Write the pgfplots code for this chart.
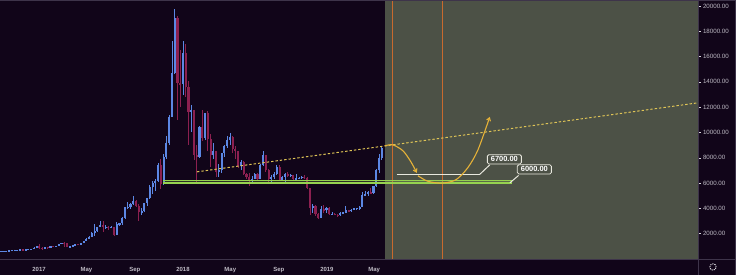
\documentclass[border=0pt]{standalone}
\usepackage{pgfplots}
\pgfplotsset{compat=1.18}
\usepackage{pgfplotstable}
\usetikzlibrary{arrows.meta}
\usepackage{fontspec}
\setmainfont{Liberation Sans}

\definecolor{bgcol}{RGB}{17,5,25}
\definecolor{zonecol}{RGB}{76,81,70}
\definecolor{upcol}{RGB}{92,135,228}
\definecolor{dncol}{RGB}{140,32,80}
\definecolor{sepcol}{RGB}{62,52,74}
\definecolor{lblcol}{RGB}{190,186,196}
\definecolor{vlinecol}{RGB}{200,106,46}
\definecolor{trendcol}{RGB}{222,196,86}
\definecolor{pathcol}{RGB}{230,178,56}
\definecolor{bandcol}{RGB}{150,210,80}
\definecolor{lvlcol}{RGB}{232,232,222}

% weekly BTC/USD candles; d = days since 2017-01-01 (week open)
\pgfplotstableread{
d o h l c
-97 605 612 594 610
-90 610 620 605 617
-83 617 642 615 637
-76 637 660 628 655
-69 655 705 650 700
-62 700 740 685 703
-55 703 718 695 705
-48 705 745 700 735
-41 735 745 725 730
-34 730 770 725 765
-27 765 780 755 778
-20 778 795 770 790
-13 790 935 790 900
-6 900 1000 880 998
1 998 1150 810 905
8 905 910 750 820
15 820 930 815 920
22 920 925 880 915
29 915 1020 910 1010
36 1010 1060 990 1000
43 1000 1060 995 1050
50 1050 1200 1040 1190
57 1190 1290 1180 1270
64 1270 1330 980 1230
71 1230 1250 940 960
78 960 1050 890 970
85 970 1090 960 1080
92 1080 1190 1070 1180
99 1180 1210 1150 1170
106 1170 1260 1160 1250
113 1250 1430 1240 1420
120 1420 1630 1400 1620
127 1620 1800 1610 1730
134 1730 2100 1700 2050
141 2050 2760 1850 2200
148 2200 2550 2150 2520
155 2520 2980 2500 2650
162 2650 2980 2100 2500
169 2500 2700 2400 2500
176 2500 2600 2330 2480
183 2480 2640 2450 2510
190 2510 2530 1830 1930
197 1930 2900 1900 2750
204 2750 2850 2600 2850
211 2850 3300 2700 3230
218 3230 4100 3200 4080
225 4080 4480 3950 4100
232 4100 4400 3950 4350
239 4350 4980 4300 4600
246 4600 4700 4100 4200
253 4200 4350 2970 3700
260 3700 4000 3500 3780
267 3780 4450 3750 4400
274 4400 4850 4150 4800
281 4800 5850 4750 5700
288 5700 6150 5100 6000
295 6000 6300 5400 6150
302 6150 7600 6100 7400
309 7400 7880 5500 5900
316 5900 8300 5850 8050
323 8050 9700 7900 9200
330 9200 11400 9000 11230
337 11230 17200 11200 14700
344 14700 19730 14600 19045
351 19045 19200 11000 13900
358 13900 16500 12000 13800
365 13800 17250 13000 16270
372 16270 17000 12800 13600
379 13600 14100 9000 11600
386 11600 12200 10000 11750
393 11750 11800 7800 8200
400 8200 9000 6000 8100
407 8100 10500 8000 10470
414 10470 11800 9300 9600
421 9600 11550 9400 11500
428 11500 11700 8500 9500
435 9500 9900 7300 8200
442 8200 9200 7900 8500
449 8500 8550 6500 6900
456 6900 7500 6450 7000
463 7000 8400 6800 8350
470 8350 9000 8100 8900
477 8900 9750 8800 9400
484 9400 9990 9000 9650
491 9650 9700 8400 8700
498 8700 8900 7900 8500
505 8500 8550 7200 7350
512 7350 7800 7050 7700
519 7700 7750 6650 6750
526 6750 6800 6300 6500
533 6500 6800 5750 6150
540 6150 6550 5950 6350
547 6350 6800 6300 6750
554 6750 6800 6200 6350
561 6350 7500 6300 7400
568 7400 8500 7350 8200
575 8200 8250 6900 7000
582 7000 7150 6000 6300
589 6300 6600 5900 6500
596 6500 6900 6350 6700
603 6700 7400 6650 7300
610 7300 7400 6150 6250
617 6250 6550 6150 6500
624 6500 6800 6100 6700
631 6700 6850 6450 6600
638 6600 6700 6500 6600
645 6600 6650 6150 6300
652 6300 6700 6250 6400
659 6400 6480 6350 6400
666 6400 6550 6300 6500
673 6500 6600 6300 6400
680 6400 6450 5500 5600
687 5600 5650 3500 4000
694 4000 4350 3600 4150
701 4150 4300 3400 3550
708 3550 3600 3200 3250
715 3250 4200 3250 3950
722 3950 4250 3650 3850
729 3850 4100 3650 4050
736 4050 4100 3500 3550
743 3550 3750 3450 3550
750 3550 3650 3450 3500
757 3500 3550 3350 3450
764 3450 3700 3400 3650
771 3650 3700 3550 3650
778 3650 4200 3650 3850
785 3850 3900 3700 3800
792 3800 3950 3700 3900
799 3900 4000 3850 4000
806 4000 4050 3900 4000
813 4000 4150 3900 4100
820 4100 5300 4100 5050
827 5050 5400 4950 5100
834 5100 5350 5000 5300
841 5300 5600 5150 5200
848 5200 5800 5150 5750
855 5750 7100 5700 7000
862 7000 8300 6800 8000
869 8000 8900 7800 8750
}\candles

\begin{document}
\begin{tikzpicture}
\useasboundingbox (0,0) rectangle (736bp,275bp);
\fill[bgcol] (0,0) rectangle (736bp,275bp);
\begin{axis}[
  at={(0,16bp)}, anchor=south west,
  scale only axis, width=698bp, height=259bp,
  xmin=-99, xmax=1671, ymin=0, ymax=20470,
  axis line style={draw=none},
  scaled y ticks=false, scaled x ticks=false,
  xtick={0,120,243,365,485,608,730,850},
  xticklabels={2017,May,Sep,2018,May,Sep,2019,May},
  xtick style={draw=none},
  xticklabel style={font=\fontsize{6}{7}\selectfont\bfseries, text=lblcol, yshift=-2.5bp},
  ytick={2000,4000,...,20000},
  ytick pos=right, yticklabel pos=right,
  tick align=outside, major tick length=2.5bp,
  ytick style={draw=lblcol!60, line width=0.5bp},
  yticklabel={\pgfmathprintnumber[fixed,fixed zerofill,precision=2,1000 sep={},assume math mode=true]{\tick}},
  yticklabel style={font=\fontsize{6.2}{7}\selectfont, text=lblcol, anchor=west, xshift=-1bp},
  clip=true,
]
% projection zone
\addplot[draw=none, fill=zonecol] coordinates {(877,0) (1671,0) (1671,20470) (877,20470)} --cycle;

% candles: wicks and bodies
\addplot[draw=none, mark=none, restrict y to domain=0:30000,
  error bars/.cd, y dir=both, y explicit, error mark=none,
  error bar style={draw=upcol, line width=0.8bp}]
  table[x=d, y expr={\thisrow{c}>=\thisrow{o} ? 0.5*(\thisrow{h}+\thisrow{l}) : -100000},
        y error expr={0.5*(\thisrow{h}-\thisrow{l})}] {\candles};
\addplot[draw=none, mark=none, restrict y to domain=0:30000,
  error bars/.cd, y dir=both, y explicit, error mark=none,
  error bar style={draw=dncol, line width=0.8bp}]
  table[x=d, y expr={\thisrow{c}<\thisrow{o} ? 0.5*(\thisrow{h}+\thisrow{l}) : -100000},
        y error expr={0.5*(\thisrow{h}-\thisrow{l})}] {\candles};
\addplot[draw=none, mark=none, restrict y to domain=0:30000,
  error bars/.cd, y dir=both, y explicit, error mark=none,
  error bar style={draw=upcol, line width=2.1bp}]
  table[x=d, y expr={\thisrow{c}>=\thisrow{o} ? 0.5*(\thisrow{o}+\thisrow{c}) : -100000},
        y error expr={max(0.5*abs(\thisrow{c}-\thisrow{o}),35)}] {\candles};
\addplot[draw=none, mark=none, restrict y to domain=0:30000,
  error bars/.cd, y dir=both, y explicit, error mark=none,
  error bar style={draw=dncol, line width=2.1bp}]
  table[x=d, y expr={\thisrow{c}<\thisrow{o} ? 0.5*(\thisrow{o}+\thisrow{c}) : -100000},
        y error expr={max(0.5*abs(\thisrow{c}-\thisrow{o}),35)}] {\candles};

% time markers
\addplot[draw=vlinecol, line width=1.2bp] coordinates {(896.3,0) (896.3,20470)};
\addplot[draw=vlinecol, line width=1.2bp] coordinates {(1023.1,0) (1023.1,20470)};

% support band
\addplot[draw=none, fill=bandcol, fill opacity=0.2] coordinates {(314,6000) (1199,6000) (1199,6204) (314,6204)} --cycle;
\addplot[draw=bandcol, line width=1.2bp] coordinates {(314,6204) (1199,6204)};
\addplot[draw=bandcol, line width=1.2bp] coordinates {(314,6000) (1199,6000)};

% rising trendline
\addplot[draw=trendcol, line width=1bp, dash pattern=on 2.4bp off 2bp] coordinates {(400.5,6890) (1671,12345)};

% level 6700
\addplot[draw=lvlcol, line width=1bp] coordinates {(907,6700) (1118,6700)};

% projected path
\addplot[draw=pathcol, line width=1.1bp, smooth, -{Straight Barb[length=3bp,width=4bp]}] coordinates {
  (877,8943) (897,9022) (923,8548) (943,7680) (958,6810)};
\addplot[draw=pathcol, line width=1.1bp, smooth, -{Straight Barb[length=3bp,width=4bp]}] coordinates {
  (961,6575) (986,6141) (1021.5,5999) (1057,6259) (1087,7206) (1113,8627) (1143,11232)};

% callouts
\addplot[draw=lvlcol, line width=1bp] coordinates {(1118,6700) (1143,7440)};
\addplot[draw=lvlcol, line width=1bp] coordinates {(1194,6020) (1216,6600)};
\node[draw=lvlcol, fill=zonecol, rounded corners=1.5bp, line width=0.8bp, inner xsep=3.5bp, inner ysep=2bp,
  text=white, font=\fontsize{7.5}{8}\selectfont\bfseries] at (axis cs:1180,7877) {6700.00};
\node[draw=lvlcol, fill=zonecol, rounded corners=1.5bp, line width=0.8bp, inner xsep=3.5bp, inner ysep=2bp,
  text=white, font=\fontsize{7.5}{8}\selectfont\bfseries] at (axis cs:1256,7088) {6000.00};
\end{axis}
% panel separators
\draw[sepcol, line width=0.8bp] (0,274.6bp) -- (736bp,274.6bp);
\draw[sepcol, line width=0.8bp] (0,16bp) -- (736bp,16bp);
\draw[sepcol, line width=0.8bp] (698.4bp,0) -- (698.4bp,275bp);
\draw[sepcol, line width=0.6bp] (735.6bp,0) -- (735.6bp,275bp);
\draw[lblcol!70, line width=0.9bp, dash pattern=on 1.3bp off 0.9bp] (713bp,8bp) circle (3.2bp);
\end{tikzpicture}
\end{document}
